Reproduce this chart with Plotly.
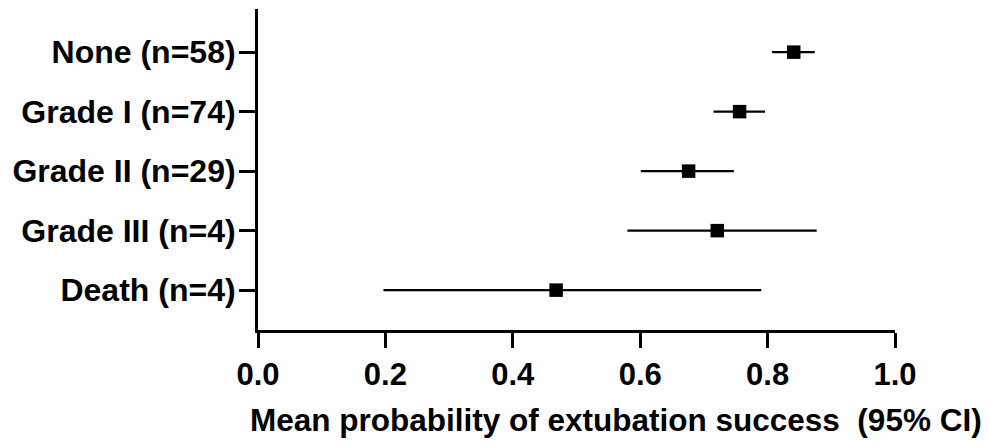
import plotly.graph_objects as go

categories = ["None (n=58)", "Grade I (n=74)", "Grade II (n=29)", "Grade III (n=4)", "Death (n=4)"]
mean_prob = [0.841, 0.756, 0.676, 0.721, 0.468]
ci_low = [0.807, 0.715, 0.601, 0.580, 0.197]
ci_high = [0.874, 0.796, 0.747, 0.877, 0.790]
x_ticks = [0.0, 0.2, 0.4, 0.6, 0.8, 1.0]
x_title = "Mean probability of extubation success\u00a0\u00a0(95% CI)"

# plot bottom-to-top order
cats = categories[::-1]
means = mean_prob[::-1]
lo = ci_low[::-1]
hi = ci_high[::-1]

fig = go.Figure()
fig.add_trace(go.Scatter(
    x=means, y=cats, mode="markers",
    marker=dict(symbol="square", size=13.5, color="black", line=dict(width=0)),
    error_x=dict(type="data", symmetric=False,
                 array=[h - m for h, m in zip(hi, means)],
                 arrayminus=[m - l for m, l in zip(means, lo)],
                 color="black", thickness=2.2, width=0),
    showlegend=False,
))

font_fam = "Arial, Liberation Sans, sans-serif"
# page body has an 8px default margin, so the figure is sized to fit the window
fig.update_layout(
    width=981, height=437,
    margin=dict(l=250, r=94, t=1, b=115),
    plot_bgcolor="white", paper_bgcolor="white",
    font=dict(family=font_fam, color="black"),
)
fig.update_xaxes(
    range=[0, 1], tickvals=x_ticks, ticktext=[f"{v:.1f}" for v in x_ticks],
    showgrid=False, zeroline=False, showline=True, linecolor="black", linewidth=3,
    ticks="outside", ticklen=15, tickwidth=3, tickcolor="black",
    tickfont=dict(size=31, family=font_fam, color="black", weight="bold"),
)
fig.update_yaxes(
    type="category", categoryorder="array", categoryarray=cats,
    range=[-0.67, 4.725],
    showgrid=False, zeroline=False, showline=True, linecolor="black", linewidth=3,
    ticks="outside", ticklen=16, tickwidth=3, tickcolor="black",
    ticklabelstandoff=-3,
    tickfont=dict(size=32, family=font_fam, color="black", weight="bold"),
)
fig.add_annotation(
    text=x_title, xref="paper", yref="paper", x=0.562, y=0,
    xanchor="center", yanchor="middle", yshift=-90, showarrow=False,
    font=dict(size=31.5, family=font_fam, color="black", weight="bold"),
)
fig.write_html("out.html")
